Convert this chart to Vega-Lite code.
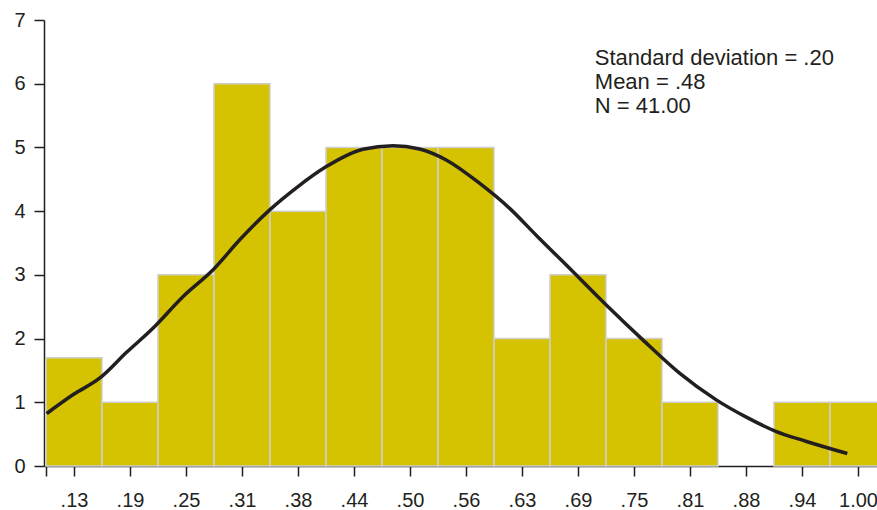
{
  "$schema": "https://vega.github.io/schema/vega-lite/v6.json",
  "autosize": "none",
  "width": 842,
  "height": 446,
  "padding": {"left": 44, "top": 20, "right": 0, "bottom": 44},
  "background": "white",
  "config": {
    "view": {"stroke": null},
    "font": "Liberation Sans",
    "axis": {
      "grid": false,
      "domainColor": "#231f20",
      "domainWidth": 1.5,
      "tickColor": "#231f20",
      "tickWidth": 1.5,
      "tickSize": 10,
      "labelFont": "Liberation Sans",
      "labelFontSize": 20,
      "labelColor": "#231f20",
      "title": null
    }
  },
  "datasets": {
    "bins": [
      {"bin": ".13", "lo": 0, "hi": 1, "count": 1.7},
      {"bin": ".19", "lo": 1, "hi": 2, "count": 1},
      {"bin": ".25", "lo": 2, "hi": 3, "count": 3},
      {"bin": ".31", "lo": 3, "hi": 4, "count": 6},
      {"bin": ".38", "lo": 4, "hi": 5, "count": 4},
      {"bin": ".44", "lo": 5, "hi": 6, "count": 5},
      {"bin": ".50", "lo": 6, "hi": 7, "count": 5},
      {"bin": ".56", "lo": 7, "hi": 8, "count": 5},
      {"bin": ".63", "lo": 8, "hi": 9, "count": 2},
      {"bin": ".69", "lo": 9, "hi": 10, "count": 3},
      {"bin": ".75", "lo": 10, "hi": 11, "count": 2},
      {"bin": ".81", "lo": 11, "hi": 12, "count": 1},
      {"bin": ".88", "lo": 12, "hi": 13, "count": 0},
      {"bin": ".94", "lo": 13, "hi": 14, "count": 1},
      {"bin": "1.00", "lo": 14, "hi": 15, "count": 1}
    ],
    "curve": [
      {"x": 0.0125, "y": 0.823},
      {"x": 0.487, "y": 1.121},
      {"x": 0.963, "y": 1.382},
      {"x": 1.439, "y": 1.784},
      {"x": 1.914, "y": 2.166},
      {"x": 2.449, "y": 2.661},
      {"x": 2.984, "y": 3.08},
      {"x": 3.46, "y": 3.55},
      {"x": 3.995, "y": 4.02},
      {"x": 4.5, "y": 4.386},
      {"x": 5.006, "y": 4.699},
      {"x": 5.659, "y": 4.972},
      {"x": 6.194, "y": 5.028},
      {"x": 6.67, "y": 4.976},
      {"x": 7.146, "y": 4.804},
      {"x": 7.74, "y": 4.439},
      {"x": 8.275, "y": 4.047},
      {"x": 8.775, "y": 3.602},
      {"x": 9.287, "y": 3.158},
      {"x": 10.0, "y": 2.531},
      {"x": 10.653, "y": 1.983},
      {"x": 11.307, "y": 1.461},
      {"x": 11.962, "y": 1.042},
      {"x": 12.497, "y": 0.771},
      {"x": 13.032, "y": 0.545},
      {"x": 13.567, "y": 0.389},
      {"x": 14.309, "y": 0.196}
    ]
  },
  "layer": [
    {
      "data": {"name": "bins"},
      "transform": [{"filter": "datum.count > 0"}],
      "mark": {"type": "rect", "fill": "#d5c200", "stroke": "#cfcfcf", "strokeWidth": 1.5},
      "encoding": {
        "x": {
          "field": "lo",
          "type": "quantitative",
          "scale": {"domain": [-0.0357, 15], "nice": false, "zero": false},
          "axis": {
            "values": [0, 0.5, 1.5, 2.5, 3.5, 4.5, 5.5, 6.5, 7.5, 8.5, 9.5, 10.5, 11.5, 12.5, 13.5, 14.5],
            "labelExpr": "datum.value == 0 ? '' : ['.13','.19','.25','.31','.38','.44','.50','.56','.63','.69','.75','.81','.88','.94','1.00'][floor(datum.value)]",
            "labelPadding": 14,
            "labelDx": -4,
            "labelFlush": false,
            "labelOverlap": false
          }
        },
        "x2": {"field": "hi"},
        "y": {
          "field": "count",
          "type": "quantitative",
          "scale": {"domain": [0, 7], "nice": false},
          "axis": {"values": [0, 1, 2, 3, 4, 5, 6, 7], "format": "d", "labelPadding": 9, "labelFlush": false}
        },
        "y2": {"datum": 0}
      }
    },
    {
      "data": {"name": "curve"},
      "mark": {"type": "line", "color": "#231f20", "strokeWidth": 3.5, "interpolate": "monotone"},
      "encoding": {
        "x": {"field": "x", "type": "quantitative"},
        "y": {"field": "y", "type": "quantitative"}
      }
    },
    {
      "data": {"values": [{"lines": ["Standard deviation = .20", "Mean = .48", "N = 41.00"]}]},
      "mark": {"type": "text", "align": "left", "baseline": "alphabetic", "fontSize": 22, "lineHeight": 24, "color": "#231f20", "font": "Liberation Sans"},
      "encoding": {
        "x": {"datum": 9.8},
        "y": {"datum": 6.29},
        "text": {"field": "lines"}
      }
    }
  ]
}
